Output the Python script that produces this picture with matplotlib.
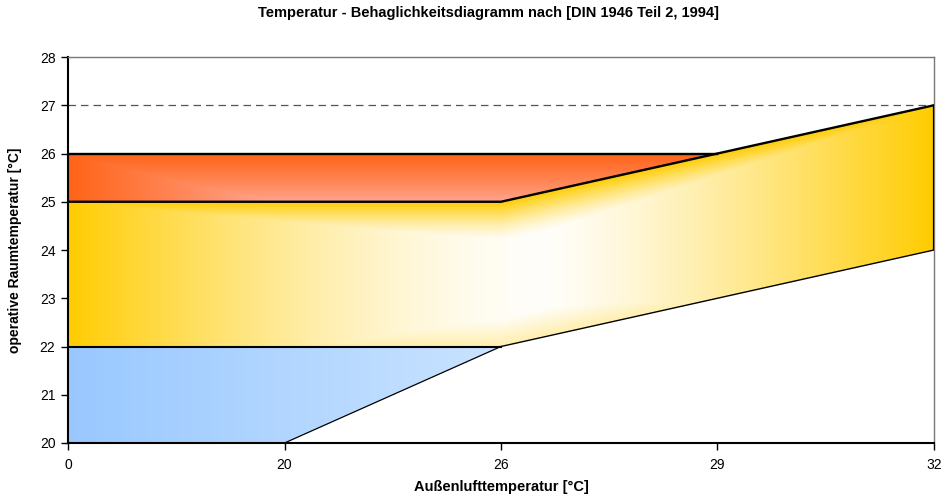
import matplotlib
matplotlib.use("Agg")
import matplotlib.pyplot as plt
import numpy as np
from matplotlib.colors import to_rgb

plt.rcParams['font.family'] = ['Liberation Sans', 'DejaVu Sans']

# Außenlufttemperatur als Kategorien (gleichabständig wie im Excel-Diagramm)
x_labels = ['0', '20', '26', '29', '32']
pos = np.arange(len(x_labels))

# Grenzlinien der Bereiche (operative Raumtemperatur in °C)
blue_low = [20, 20, 22]              # bis 26 °C
blue_high = [22, 22, 22]
yellow_low = [22, 22, 22, 23, 24]
yellow_high = [25, 25, 25, 26, 27]
red_low = [25, 25, 25, 26]           # bis 29 °C
red_high = [26, 26, 26, 26]
limit_line = 27

fig = plt.figure(figsize=(9.41, 4.96), dpi=100)
ax = fig.add_axes([68 / 941, 53 / 496, 866 / 941, 386 / 496])
ax.set_xlim(0, 4)
ax.set_ylim(20, 28)

# Raster für die Farbverläufe
gx = np.linspace(0, 4, 600)
gy = np.linspace(20, 28, 500)
X, Y = np.meshgrid(gx, gy)


def blend(c0, c1, t):
    # t=1 -> c0, t=0 -> c1
    c0 = np.array(to_rgb(c0))
    c1 = np.array(to_rgb(c1))
    t = np.clip(t, 0, 1)[..., None]
    return c1 + (c0 - c1) * t


def shade(img, xs, lo, hi):
    poly = ax.fill_between(xs, lo, hi, facecolor='none', edgecolor='none')
    im = ax.imshow(img, extent=(0, 4, 20, 28), origin='lower',
                   aspect='auto', interpolation='bilinear', zorder=1)
    im.set_clip_path(poly.get_paths()[0], transform=ax.transData)


# blau: horizontaler Verlauf
t_blue = 1 - X / 2.2
shade(blend('#99c8ff', '#cfe6ff', t_blue), pos[:3], blue_low, blue_high)

# rot/orange: oben und links kräftig, unten rechts lachsfarben
t_red = np.maximum(np.clip(Y - 25, 0, 1) ** 0.8, 1 - X / 1.0)
shade(blend('#ff6418', '#ffa894', t_red), pos[:4], red_low, red_high)

# gelb: von der Mitte nach außen
top_y = np.interp(X, pos, yellow_high)
low_y = np.interp(X, pos, yellow_low)
h = np.abs(X - 2.2) / np.where(X < 2.2, 2.2, 1.8)
h = np.where(X < 2.2, h ** 1.55, h ** 1.3)
v_top = np.clip(1 - (top_y - Y) / 0.85, 0, 1) ** 1.4
v_bot = 0.3 * np.clip(1 - (Y - low_y) / 0.6, 0, 1)
t_yel = np.maximum(np.maximum(h, v_top), v_bot)
shade(blend('#ffcc00', '#fffefa', t_yel), pos, yellow_low, yellow_high)

# Linien
ax.plot(pos[:4], red_high, color='black', lw=1.7, zorder=3)
ax.plot(pos, yellow_high, color='black', lw=1.7, zorder=3)
ax.plot(pos[:3], blue_high, color='black', lw=1.5, zorder=3)
ax.plot(pos[2:], yellow_low[2:], color='black', lw=1.0, zorder=3)
ax.plot(pos[1:3], blue_low[1:], color='black', lw=0.9, zorder=3)
ax.axhline(limit_line, color='#555555', lw=0.9, ls=(0, (6, 4)), zorder=2)
ax.vlines(pos[-1], yellow_low[-1], yellow_high[-1], color='black', lw=1.6, zorder=3)

ax.set_xticks(pos)
ax.set_xticklabels(x_labels)
ax.set_yticks(np.arange(20, 29, 1))
ax.tick_params(direction='out', length=5, width=1, labelsize=10, pad=4)
ax.tick_params(axis='x', pad=6)

for side in ['left', 'bottom']:
    ax.spines[side].set_linewidth(1.5)
for side in ['top', 'right']:
    ax.spines[side].set_color('#777777')
    ax.spines[side].set_linewidth(1.0)

fig.text(489 / 941, 1 - 13 / 496,
         'Temperatur - Behaglichkeitsdiagramm nach [DIN 1946 Teil 2, 1994]',
         fontsize=10.5, fontweight='bold', ha='center', va='center')
ax.set_xlabel('Außenlufttemperatur [°C]', fontsize=10.5, fontweight='bold')
ax.xaxis.set_label_coords((501 - 68) / 866, (443 - 480) / 386)
ax.set_ylabel('operative Raumtemperatur [°C]', fontsize=10, fontweight='bold')
ax.yaxis.set_label_coords((22 - 68) / 866, 0.5)

fig.savefig('out.png', dpi=100)
